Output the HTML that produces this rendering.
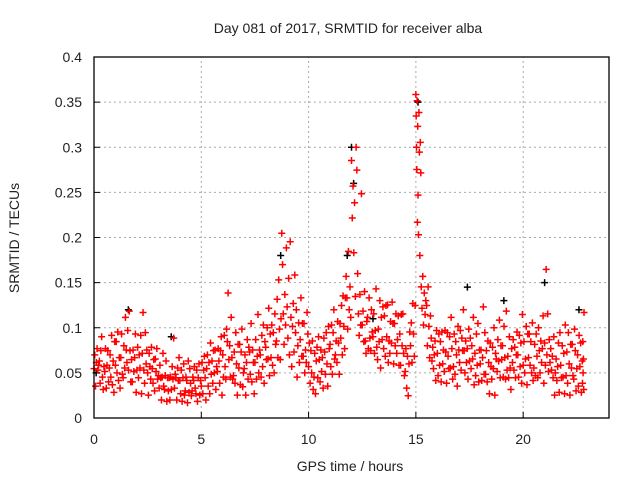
<!DOCTYPE html>
<html><head><meta charset="utf-8"><style>
body{margin:0;background:#fff;}
svg text{font-family:"Liberation Sans",sans-serif;font-size:14px;fill:#222;}
</style></head><body>
<svg id="chart" width="640" height="480">
<text x="348" y="33" text-anchor="middle">Day 081 of 2017, SRMTID for receiver alba</text>
<text x="350" y="471" text-anchor="middle">GPS time / hours</text>
<text transform="translate(19,238) rotate(-90)" text-anchor="middle">SRMTID / TECUs</text>
<g id="grid"></g><g id="ticks"></g><g id="pts"></g>
<rect x="94" y="57" width="515" height="361" fill="none" stroke="#000" stroke-width="1.3"/>
</svg>
<script>
const xTicks=[0,5,10,15,20];
const yTicks=[0,0.05,0.1,0.15,0.2,0.25,0.3,0.35,0.4];
const yTickLabels=["0","0.05","0.1","0.15","0.2","0.25","0.3","0.35","0.4"];
const bucketStarts=[0,0.25,0.5,0.75,1,1.25,1.5,1.75,2,2.25,2.5,2.75,3,3.25,3.5,3.75,4,4.25,4.5,4.75,5,5.25,5.5,5.75,6,6.25,6.5,6.75,7,7.25,7.5,7.75,8,8.25,8.5,8.75,9,9.25,9.5,9.75,10,10.25,10.5,10.75,11,11.25,11.5,11.75,12,12.25,12.5,12.75,13,13.25,13.5,13.75,14,14.25,14.5,14.75,15,15.1,15.25,15.5,15.75,16,16.25,16.5,16.75,17,17.25,17.5,17.75,18,18.25,18.5,18.75,19,19.25,19.5,19.75,20,20.25,20.5,20.75,21,21.25,21.5,21.75,22,22.25,22.5,22.75];
const redVals=[
[5,7,4,6,8,5,6],[6,4,7,9,5,3,6],[5,8,3,6,7,4,6],[7,5,9,4,6,3,8],[6,8,5,10,4,7,3],[7,9,5,4,8,6,11],[8,6,10,5,12,7,4],[6,4,8,5,7,9,3],[5,8,4,7,6,9,3],[7,12,5,4,9,6,8],[5,3,7,6,4,8,5],[4,6,3,7,5,8,4],[5,3,6,4,2,5,7],[4,3,5,6,2,4,3],[4,2,5,3,6,4,9],[3,5,4,2,6,4,7],[4,3,5,2,4,6,3],[3,5,4,2,6,3,5],[4,2,3,5,4,6,3],[3,5,2,4,6,3,4],[4,6,3,5,7,4,2],[5,7,4,6,3,8,5],[6,4,7,5,8,3,6],[5,8,6,4,7,9,3],[7,5,9,6,4,10,8],[14,6,8,5,11,7,4],[5,7,4,9,6,3,8],[6,8,4,7,10,3,5],[5,7,3,6,9,4,8],[7,5,10,4,8,6,3],[6,9,4,7,11,5,8],[7,5,9,6,10,4,8],[8,6,10,7,12,5,9],[7,10,6,9,5,12,8],[9,13,7,15,10,6,11],[20,17,12,8,14,10,19],[12,9,15,7,20,11,6],[10,13,7,16,9,12,5],[8,11,6,9,13,7,10],[7,10,5,8,6,12,9],[6,8,4,7,5,9,3],[5,7,3,6,8,4,9],[6,4,8,5,7,3,9],[7,5,9,6,4,10,8],[8,6,10,5,9,12,7],[7,9,6,11,8,5,10],[9,12,7,14,10,8,13],[16,13,10,18,12,15,11],[29,22,26,18,24,13,30],[27,16,12,9,14,10,25],[10,12,8,14,9,7,11],[11,8,13,9,7,12,10],[9,12,7,10,14,8,6],[10,8,13,6,11,9,12],[8,11,7,12,9,13,6],[9,7,11,8,13,10,6],[10,8,12,7,9,11,6],[9,6,11,8,12,7,5],[5,8,3,7,2,6,10],[8,11,6,13,9,7,12],[36,33,30,28,35,22,32],[25,20,34,29,18,31,27],[15,12,16,10,14,11,13],[12,8,15,10,7,11,9],[6,8,5,7,9,4,10],[7,5,9,6,8,4,10],[6,8,5,10,7,4,9],[7,5,9,6,11,8,4],[6,9,5,8,7,4,10],[8,6,10,5,9,7,12],[7,5,9,6,8,4,10],[6,9,5,8,7,11,4],[7,5,9,6,10,4,8],[6,8,4,7,12,5,9],[5,7,4,9,6,3,8],[6,4,8,5,10,3,7],[7,5,9,6,11,4,8],[6,8,5,10,7,4,12],[5,7,4,9,6,3,8],[6,9,5,8,4,7,10],[7,5,9,6,8,4,11],[6,8,5,7,10,4,9],[7,9,6,8,5,11,4],[6,8,5,9,7,4,10],[7,5,9,6,8,11,4],[8,6,16,7,12,5,9],[6,8,5,7,4,9,3],[5,7,4,6,8,3,9],[6,4,8,5,7,3,10],[5,7,4,9,6,3,8],[6,8,5,4,10,7,3],[5,7,4,9,6,8,3],[6,4,8,5,7,3,12]];
const blackTimes=[0.1,1.6,3.6,8.7,11.8,12.0,12.1,13.0,15.1,17.4,19.1,21.0,22.6];
const blackVals=[0.05,0.12,0.09,0.18,0.18,0.3,0.26,0.11,0.35,0.145,0.13,0.15,0.12];
const X0=94,X1=609,Y0=418,Y1=57,XMAX=24,YMAX=0.4;
const xs=v=>X0+(X1-X0)*v/XMAX, ys=v=>Y0-(Y0-Y1)*v/YMAX;
const NS="http://www.w3.org/2000/svg";
const grid=document.getElementById('grid'),ticks=document.getElementById('ticks'),pts=document.getElementById('pts');
function mk(tag,attrs,parent){const e=document.createElementNS(NS,tag);for(const k in attrs)e.setAttribute(k,attrs[k]);parent.appendChild(e);return e;}
xTicks.forEach(t=>{const x=xs(t);
 if(t>0){const g=mk('line',{x1:x,x2:x,y1:Y0,y2:Y1,stroke:'#aaa','stroke-dasharray':'2,3'},grid);
 
 }
 const l=mk('text',{x:x,y:Y0+26,'text-anchor':'middle'},ticks);l.textContent=t;
 
 
 mk('line',{x1:x,x2:x,y1:Y0,y2:Y0-6,stroke:'#000'},ticks);});
yTicks.forEach((t,i)=>{const y=ys(t);
 if(i>0&&i<yTicks.length-1){const g=mk('line',{x1:X0,x2:X1,y1:y,y2:y,stroke:'#aaa','stroke-dasharray':'2,3'},grid);
 
 }
 const l=mk('text',{x:X0-12,y:y+5,'text-anchor':'end'},ticks);l.textContent=yTickLabels[i];
 
 
 mk('line',{x1:X0,x2:X0+6,y1:y,y2:y,stroke:'#000'},ticks);});
function plus(x,y,c){return mk('path',{d:`M${x-3.5},${y}h7M${x},${y-3.5}v7`,stroke:c,'stroke-width':1.5,fill:'none'},pts);}
blackTimes.forEach((t,i)=>{const p=plus(xs(t),ys(blackVals[i]),'#000');
 
 });
bucketStarts.forEach((s,i)=>{const w=(i<bucketStarts.length-1?bucketStarts[i+1]:s+0.1)-s;
 const n=redVals[i].length;
 redVals[i].forEach((v,j)=>{const p=plus(xs(s+w*j/n),ys(v/100)+((j*3+i)%7-3)*1.4,'#f00');
 
 });});
</script>
</body></html>
